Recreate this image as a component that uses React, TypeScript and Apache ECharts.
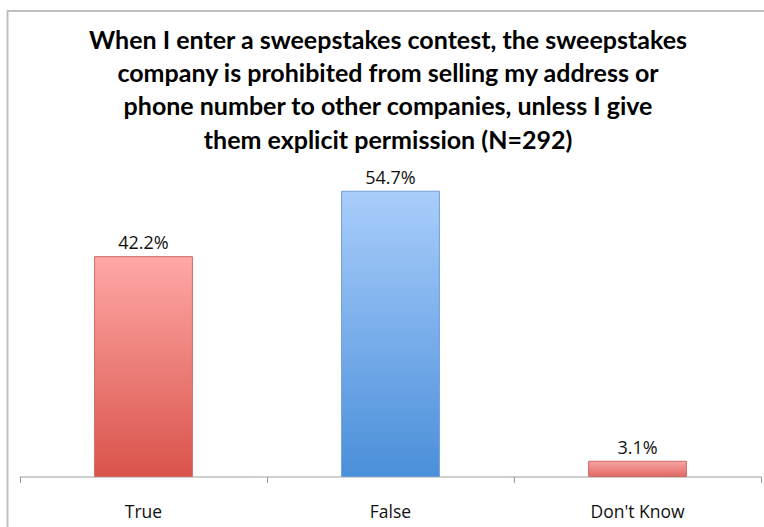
import React, { useEffect, useRef } from "react";
import * as echarts from "echarts";

const categories = ["True", "False", "Don't Know"];
const values = [42.2, 54.7, 3.1];
const titleText =
  "When I enter a sweepstakes contest, the sweepstakes\ncompany is prohibited from selling my address or\nphone number to other companies, unless I give\nthem explicit permission (N=292)";

const gradients = [
  ["#FFA8A6", "#D9534B", "#D06A66"],
  ["#A9CDFB", "#4A8FDA", "#6E9FD6"],
  ["#F7A5A3", "#E06964", "#D06A66"],
];

export default function App() {
  const ref = useRef<HTMLDivElement>(null);
  useEffect(() => {
    if (!ref.current) return;
    const chart = echarts.init(ref.current, null, { renderer: "svg" });
    chart.setOption({
      animation: false,
      backgroundColor: "#fff",
      title: {
        text: titleText,
        left: 383,
        top: 17,
        padding: 5,
        textAlign: "center",
        textStyle: {
          fontFamily: "Lato",
          fontWeight: "bold",
          fontSize: 25,
          lineHeight: 33.3,
          color: "#000",
        },
      },
      grid: { left: 20, right: 3, top: 163, bottom: 50 },
      xAxis: {
        type: "category",
        data: categories,
        axisLine: { lineStyle: { color: "#BFBFBF", width: 1.5 } },
        axisTick: { show: true, length: 6, lineStyle: { color: "#999" } },
        axisLabel: {
          fontFamily: "Open Sans",
          fontSize: 17.5,
          color: "#111",
          margin: 25,
        },
      },
      yAxis: {
        type: "value",
        min: 0,
        max: 60,
        show: false,
        splitLine: { show: false },
      },
      graphic: [
        {
          type: "polyline",
          shape: { points: [[7.5, 527], [7.5, 11], [764, 11]] },
          style: { stroke: "#BFBFBF", lineWidth: 2, fill: "none" },
          silent: true,
        },
      ],
      series: [
        {
          type: "bar",
          barWidth: "40%",
          data: values.map((v, i) => ({
            value: v,
            itemStyle: {
              color: new echarts.graphic.LinearGradient(0, 0, 0, 1, [
                { offset: 0, color: gradients[i][0] },
                { offset: 1, color: gradients[i][1] },
              ]),
              borderColor: gradients[i][2],
              borderWidth: 1,
            },
          })),
          label: {
            show: true,
            position: "top",
            distance: 5,
            formatter: (p: any) => p.value.toFixed(1) + "%",
            fontFamily: "Open Sans",
            fontSize: 18,
            color: "#111",
          },
        },
      ],
    });
    return () => chart.dispose();
  }, []);
  return (
    <div
      ref={ref}
      style={{ position: "absolute", left: 0, top: 0, width: 764, height: 527 }}
    />
  );
}
